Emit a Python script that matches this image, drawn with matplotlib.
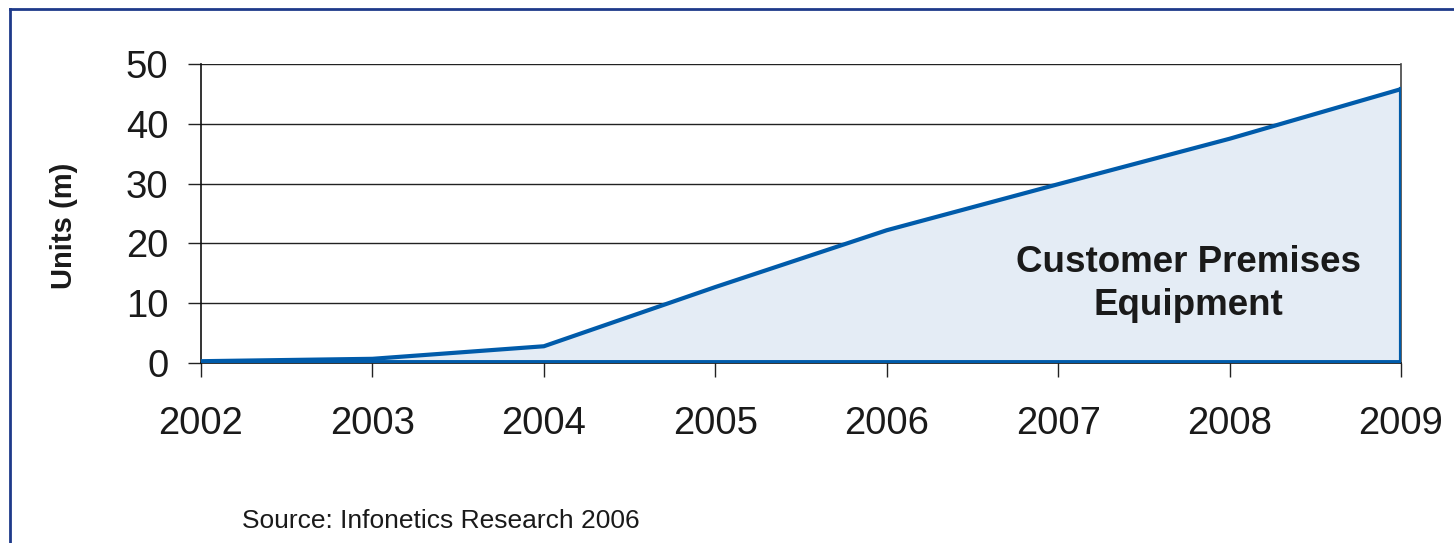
import matplotlib
matplotlib.use("Agg")
import matplotlib.pyplot as plt
from matplotlib.lines import Line2D
import numpy as np

plt.rcParams['font.family'] = ['Liberation Sans', 'DejaVu Sans']

years = [2002, 2003, 2004, 2005, 2006, 2007, 2008, 2009]
units = [0.3, 0.7, 2.8, 12.7, 22.2, 29.9, 37.5, 45.8]
y_ticks = [0, 10, 20, 30, 40, 50]

line_blue = '#005BAA'
fill_blue = '#E4ECF5'
frame_blue = '#1E3A8A'
ink = '#1A1A1A'

fig = plt.figure(figsize=(14.54, 5.43), dpi=100)
ax = fig.add_axes([201 / 1454, 1 - 363 / 543, 1200 / 1454, 299 / 543])

# outer frame, open to the right and bottom
fig.add_artist(Line2D([10 / 1454, 1.0], [1 - 9 / 543, 1 - 9 / 543],
                      color=frame_blue, lw=2, transform=fig.transFigure))
fig.add_artist(Line2D([10 / 1454, 10 / 1454], [1 - 9 / 543, 0.0],
                      color=frame_blue, lw=2, transform=fig.transFigure))

for t in y_ticks[1:]:
    ax.axhline(t, color='#222222', lw=1.0, zorder=1)

# area under the curve, closed down to zero
px = np.concatenate([years, [years[-1], years[0]]])
py = np.concatenate([units, [0, 0]])
ax.fill(px, py, facecolor=fill_blue, edgecolor='none', zorder=2)
ax.plot(years, units, color=line_blue, lw=3, solid_joinstyle='miter', zorder=4)
ax.plot([years[-1], years[-1]], [units[-1], 0], color=line_blue, lw=3, zorder=4)
ax.plot([years[0], years[-1]], [0.2, 0.2], color=line_blue, lw=2.8, zorder=3)

ax.set_xlim(years[0], years[-1])
ax.set_ylim(0, 50)
ax.set_xticks(years)
ax.set_yticks(y_ticks)
ax.tick_params(axis='x', length=10, width=1, color='#222222', pad=21,
               labelsize=27.5, labelcolor=ink)
ax.tick_params(axis='y', length=9.5, width=1, color='#222222', pad=14,
               labelsize=27.5, labelcolor=ink)

for side in ['left', 'bottom']:
    ax.spines[side].set_color('#111111')
    ax.spines[side].set_linewidth(1.2)
ax.spines['top'].set_visible(False)
ax.spines['right'].set_color('#444444')
ax.spines['right'].set_linewidth(1.2)
ax.spines['right'].set_zorder(1)

fig.text(64 / 1454, 1 - 226 / 543, 'Units (m)', rotation=90, ha='center',
         va='center', fontsize=21, fontweight='bold', color=ink)

ax.text(2007.76, 13.2, 'Customer Premises\nEquipment', ha='center', va='center',
        multialignment='center', fontsize=26.5, fontweight='bold', color=ink,
        linespacing=1.32, zorder=5)

fig.text(242 / 1454, 1 - 521 / 543, 'Source: Infonetics Research 2006',
         ha='left', va='center', fontsize=19, color=ink)

fig.savefig('out.png', dpi=100)
